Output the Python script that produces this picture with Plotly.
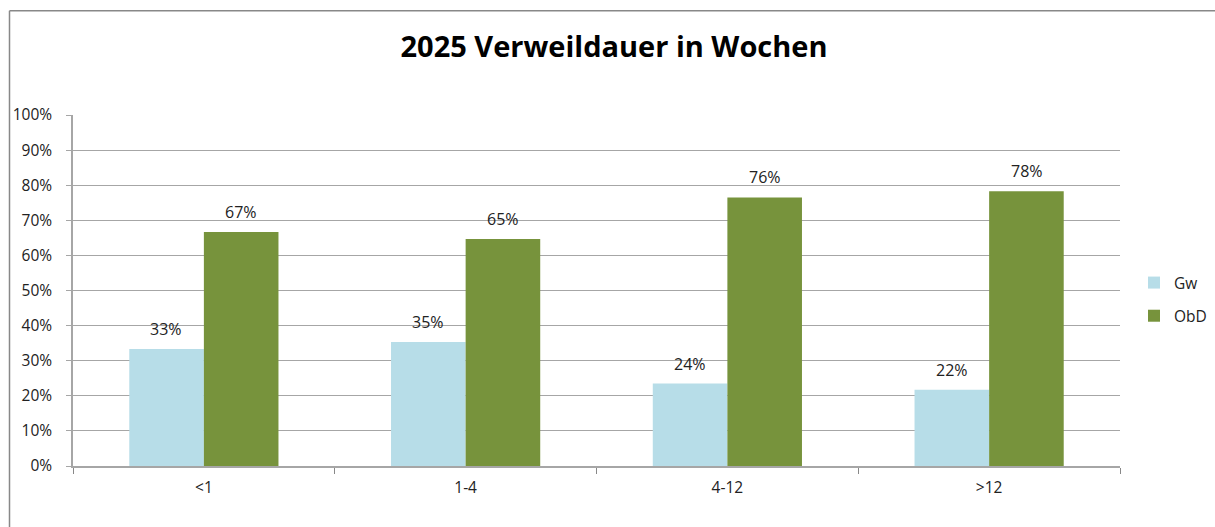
import plotly.graph_objects as go

categories = ["<1", "1-4", "4-12", ">12"]
gw_values = [33.3, 35.3, 23.5, 21.7]
obd_values = [66.7, 64.7, 76.5, 78.3]
series_names = ["Gw", "ObD"]
y_ticks = [0, 10, 20, 30, 40, 50, 60, 70, 80, 90, 100]
y_tick_labels = [f"{v}%" for v in y_ticks]

colors = ["#B7DDE8", "#77933C"]
font_family = "Open Sans, Liberation Sans, sans-serif"

fig = go.Figure()
for name, vals, col in zip(series_names, [gw_values, obd_values], colors):
    fig.add_trace(go.Bar(
        x=categories, y=vals, name=name, legendgroup=name,
        marker=dict(color=col, line=dict(width=0)),
    ))

annotations = []
for vals, shift in [(gw_values, -37.5), (obd_values, 37.5)]:
    for c, v in zip(categories, vals):
        annotations.append(dict(
            x=c, y=v, xref="x", yref="y", text=f"{round(v)}%",
            showarrow=False, yanchor="bottom", xshift=shift, yshift=7,
            font=dict(family=font_family, size=16, color="#222222"),
        ))

L, R, T, B = 73, 1215 - 1120, 114.7, 527 - 465.7
pw = 1120 - 73
ph = 465.7 - 114.7

fig.update_layout(
    width=1215, height=527,
    margin=dict(l=L, r=R, t=T, b=B, pad=0),
    paper_bgcolor="white", plot_bgcolor="white",
    barmode="group", bargap=0.43, bargroupgap=0,
    title=dict(text="<b>2025 Verweildauer in Wochen</b>", x=614 / 1215, xanchor="center",
               y=1 - 47 / 527, yanchor="middle", yref="container",
               font=dict(family=font_family, size=29, color="black")),
    legend=dict(xref="container", yref="container", x=1134 / 1215, y=1 - 266 / 527,
                xanchor="left", yanchor="top",
                font=dict(family=font_family, size=15.5, color="#222222"),
                tracegroupgap=10, bgcolor="rgba(0,0,0,0)", itemwidth=30),
    annotations=annotations,
    showlegend=True,
    shapes=[
        dict(type="line", xref="paper", yref="paper", x0=(9.5 - 73) / pw, x1=(1215 - 73) / pw,
             y0=1 + (T - 10.5) / ph, y1=1 + (T - 10.5) / ph, line=dict(color="#888888", width=1.5)),
        dict(type="line", xref="paper", yref="paper", x0=(9.5 - 73) / pw, x1=(9.5 - 73) / pw,
             y0=1 + (T - 10.5) / ph, y1=-(B + 5) / ph, line=dict(color="#888888", width=1.5)),
    ],
)
fig.update_xaxes(
    type="category", showline=True, linecolor="#A6A6A6", linewidth=1.5,
    ticks="outside", tickson="boundaries", ticklen=6, tickcolor="#888888",
    showgrid=False, tickfont=dict(family=font_family, size=15.5, color="#222222"),
    ticklabelstandoff=7,
)
fig.update_yaxes(
    range=[0, 100], tickvals=y_ticks, ticktext=y_tick_labels,
    showline=True, linecolor="#A6A6A6", linewidth=1.5,
    ticks="outside", ticklen=5, tickcolor="#A6A6A6",
    showgrid=True, gridcolor="#A6A6A6", gridwidth=1.2, zeroline=False,
    tickfont=dict(family=font_family, size=15.5, color="#222222"),
    ticklabelstandoff=11,
)

fig.write_html(
    "out.html",
    config={"responsive": False, "displayModeBar": False},
    post_script="document.body.style.margin='0';document.body.style.overflow='hidden';",
)
